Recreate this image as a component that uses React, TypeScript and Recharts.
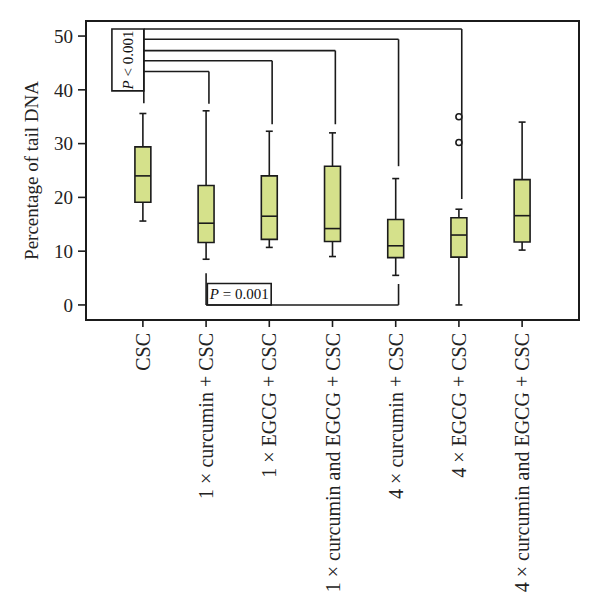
import React from "react";
import {
  ComposedChart,
  XAxis,
  YAxis,
  Scatter,
  ReferenceArea,
  ReferenceLine,
  Label,
} from "recharts";

const categories = [
  "CSC",
  "1 × curcumin + CSC",
  "1 × EGCG + CSC",
  "1 × curcumin and EGCG + CSC",
  "4 × curcumin + CSC",
  "4 × EGCG + CSC",
  "4 × curcumin and EGCG + CSC",
];
const whiskerLow = [15.6, 8.5, 10.7, 9.0, 5.5, 0, 10.2];
const q1 = [19.1, 11.6, 12.2, 11.8, 8.8, 8.9, 11.7];
const median = [24.0, 15.2, 16.5, 14.2, 11.0, 13.0, 16.6];
const q3 = [29.4, 22.2, 24.0, 25.8, 15.9, 16.2, 23.3];
const whiskerHigh = [35.6, 36.1, 32.3, 32.0, 23.5, 17.8, 34.0];
const outliers = [
  { group: 6, value: 35.0 },
  { group: 6, value: 30.2 },
];
const yTicks = [0, 10, 20, 30, 40, 50];

// P < 0.001 comparisons of CSC against groups 2..6
const sigTargets = [2, 3, 4, 5, 6];
const sigLevels = [43.4, 45.4, 47.3, 49.4, 51.3];
const sigEnds = [37.4, 33.6, 33.6, 25.8, 19.7];
const sigStart = 37.5;
// P = 0.001 comparison of group 2 against group 5
const lowPair = [2, 5];
const lowEnds = [5.9, 3.9];

const INK = "#1b1b1b";
const FILL = "#d5e18b";
const FONT = "'Liberation Serif', 'Times New Roman', serif";
const HALF_BOX = 0.126;
const HALF_CAP = 0.055;
const BRACKET_SHIFT = 0.045; // bracket legs sit just right of the box centres

const XTick = (props: any) => {
  const { x, y, payload } = props;
  return (
    <g transform={`translate(${x},${y})`}>
      <text
        transform="rotate(-90)"
        x={-4}
        dy="0.35em"
        textAnchor="end"
        fontFamily={FONT}
        fontSize={20}
        fill="#222"
      >
        {categories[payload.value - 1]}
      </text>
    </g>
  );
};

const YTitle = (props: any) => {
  const { viewBox } = props;
  const cx = viewBox.x + 23;
  const cy = viewBox.y + viewBox.height / 2;
  return (
    <text
      x={cx}
      y={cy}
      transform={`rotate(-90, ${cx}, ${cy})`}
      textAnchor="middle"
      dy="0.35em"
      fontFamily={FONT}
      fontSize={19}
      fill="#222"
    >
      Percentage of tail DNA
    </text>
  );
};

const PLabel = (rotated: boolean, rest: string) => (props: any) => {
  const { viewBox } = props;
  const cx = viewBox.x + viewBox.width / 2;
  const cy = viewBox.y + viewBox.height / 2;
  return (
    <text
      x={cx}
      y={cy}
      transform={rotated ? `rotate(-90, ${cx}, ${cy})` : undefined}
      textAnchor="middle"
      dy="0.35em"
      fontFamily={FONT}
      fontSize={15}
      fill="#111"
    >
      <tspan fontStyle="italic">P</tspan>
      {rest}
    </text>
  );
};

const Outlier = (props: any) => (
  <circle cx={props.cx} cy={props.cy} r={3} fill="#fff" stroke={INK} strokeWidth={1.6} />
);

export default function App() {
  const line = { stroke: INK, strokeWidth: 1.6 };
  const lastLevel = sigLevels[sigLevels.length - 1];
  return (
    <ComposedChart
      width={592}
      height={608}
      data={outliers}
      margin={{ top: 13, right: 21, left: 0, bottom: 0 }}
    >
      <XAxis
        type="number"
        dataKey="group"
        domain={[0.1, 7.9]}
        ticks={[1, 2, 3, 4, 5, 6, 7]}
        allowDataOverflow
        height={296}
        tickSize={7}
        tickMargin={2}
        axisLine={false}
        tickLine={{ stroke: INK, strokeWidth: 1.6 }}
        tick={<XTick />}
        interval={0}
      />
      <YAxis
        type="number"
        dataKey="value"
        domain={[-2.8, 52.8]}
        ticks={yTicks}
        allowDataOverflow
        width={78}
        tickSize={8}
        tickMargin={5}
        axisLine={false}
        tickLine={{ stroke: INK, strokeWidth: 1.6 }}
        tick={{ fontFamily: FONT, fontSize: 19, fill: "#222" }}
      >
        <Label content={<YTitle />} />
      </YAxis>

      <ReferenceArea
        x1={0.1}
        x2={7.9}
        y1={-2.8}
        y2={52.8}
        fill="none"
        fillOpacity={0}
        stroke={INK}
        strokeWidth={2}
      />

      {categories.map((_, i) => {
        const g = i + 1;
        return (
          <React.Fragment key={g}>
            <ReferenceLine segment={[{ x: g, y: whiskerLow[i] }, { x: g, y: q1[i] }]} {...line} />
            <ReferenceLine segment={[{ x: g, y: q3[i] }, { x: g, y: whiskerHigh[i] }]} {...line} />
            <ReferenceLine
              segment={[{ x: g - HALF_CAP, y: whiskerLow[i] }, { x: g + HALF_CAP, y: whiskerLow[i] }]}
              {...line}
            />
            <ReferenceLine
              segment={[{ x: g - HALF_CAP, y: whiskerHigh[i] }, { x: g + HALF_CAP, y: whiskerHigh[i] }]}
              {...line}
            />
            <ReferenceArea
              x1={g - HALF_BOX}
              x2={g + HALF_BOX}
              y1={q1[i]}
              y2={q3[i]}
              fill={FILL}
              fillOpacity={1}
              stroke={INK}
              strokeWidth={1.6}
            />
            <ReferenceLine
              segment={[{ x: g - HALF_BOX, y: median[i] }, { x: g + HALF_BOX, y: median[i] }]}
              {...line}
            />
          </React.Fragment>
        );
      })}

      <ReferenceArea
        x1={0.51}
        x2={1.015}
        y1={39.8}
        y2={lastLevel}
        fill="#fff"
        fillOpacity={1}
        stroke={INK}
        strokeWidth={1.6}
        label={PLabel(true, " < 0.001")}
      />
      <ReferenceLine segment={[{ x: 1.015, y: sigStart }, { x: 1.015, y: lastLevel }]} {...line} />
      {sigTargets.map((t, i) => (
        <React.Fragment key={`sig-${t}`}>
          <ReferenceLine
            segment={[{ x: 1.015, y: sigLevels[i] }, { x: t + BRACKET_SHIFT, y: sigLevels[i] }]}
            {...line}
          />
          <ReferenceLine
            segment={[{ x: t + BRACKET_SHIFT, y: sigLevels[i] }, { x: t + BRACKET_SHIFT, y: sigEnds[i] }]}
            {...line}
          />
        </React.Fragment>
      ))}

      <ReferenceArea
        x1={2.02}
        x2={3.03}
        y1={0}
        y2={4.0}
        fill="#fff"
        fillOpacity={1}
        stroke={INK}
        strokeWidth={1.6}
        label={PLabel(false, " = 0.001")}
      />
      <ReferenceLine segment={[{ x: lowPair[0], y: lowEnds[0] }, { x: lowPair[0], y: 0 }]} {...line} />
      <ReferenceLine
        segment={[{ x: lowPair[0], y: 0 }, { x: lowPair[1] + BRACKET_SHIFT, y: 0 }]}
        {...line}
      />
      <ReferenceLine
        segment={[{ x: lowPair[1] + BRACKET_SHIFT, y: 0 }, { x: lowPair[1] + BRACKET_SHIFT, y: lowEnds[1] }]}
        {...line}
      />

      <Scatter data={outliers} dataKey="value" shape={<Outlier />} isAnimationActive={false} />
    </ComposedChart>
  );
}
